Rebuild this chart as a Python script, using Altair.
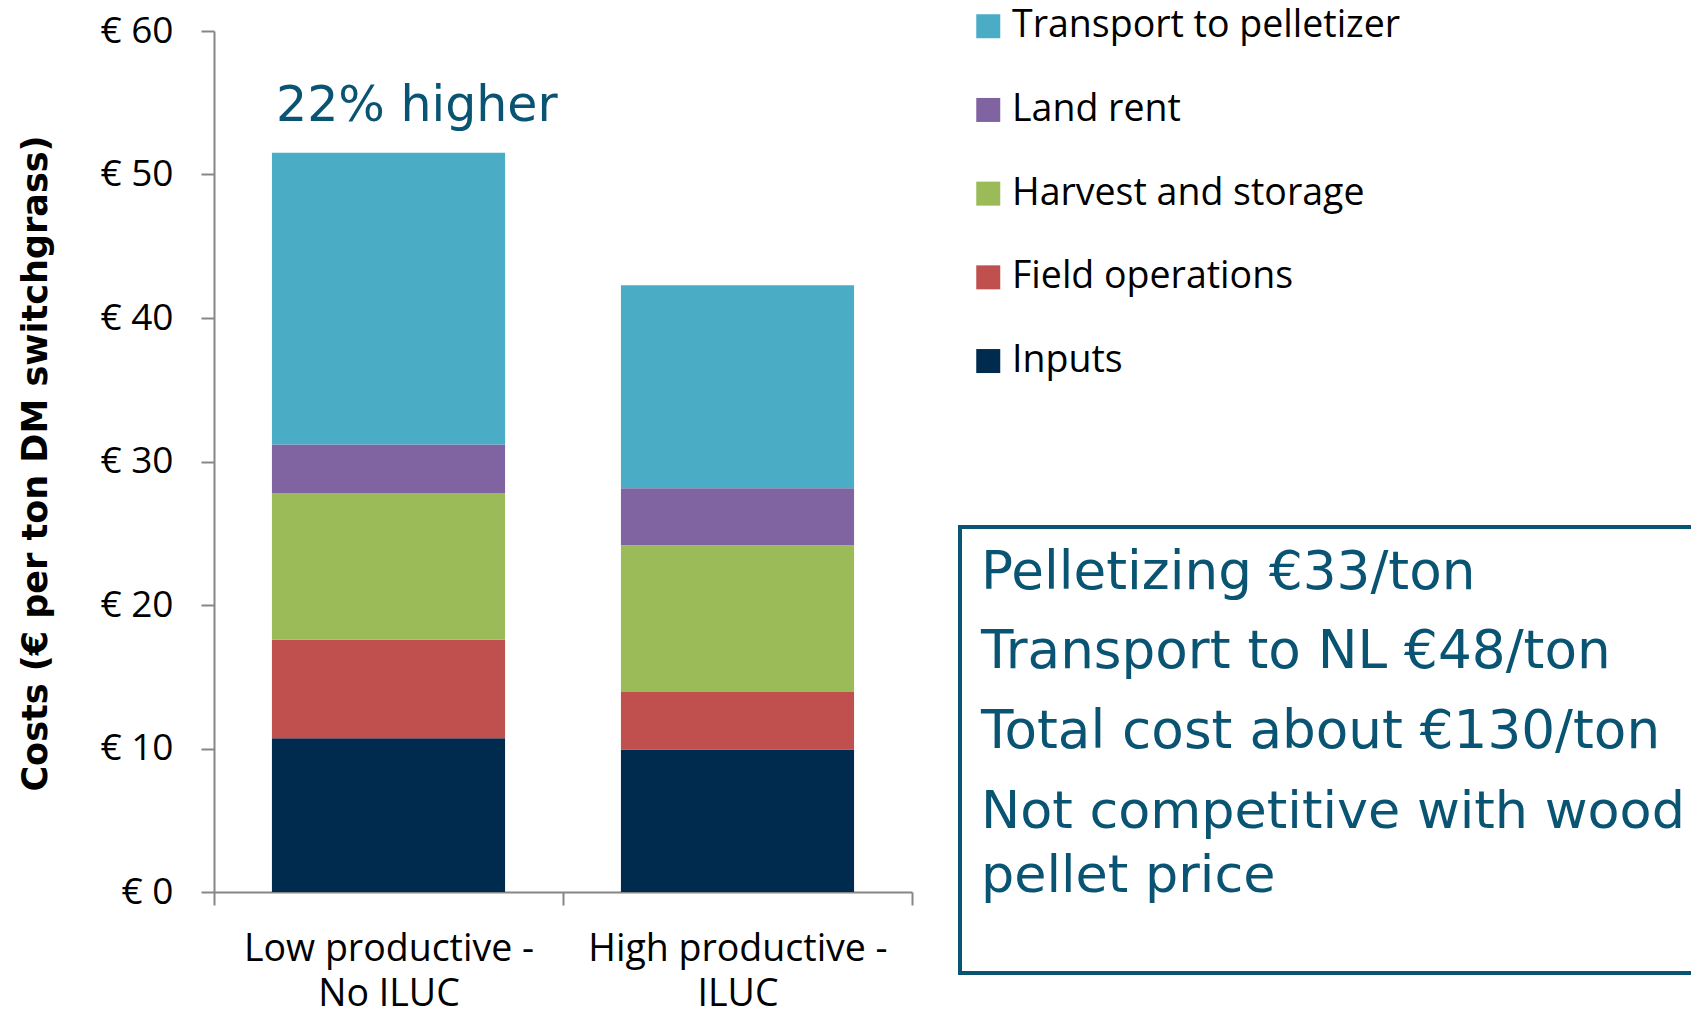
import altair as alt
import pandas as pd

# ---- data ----
categories = ["Low productive - No ILUC", "High productive - ILUC"]
components = ["Inputs", "Field operations", "Harvest and storage", "Land rent", "Transport to pelletizer"]
low_values = [10.71, 6.86, 10.23, 3.39, 20.32]
high_values = [9.93, 4.01, 10.23, 3.96, 14.16]
legend_order = ["Transport to pelletizer", "Land rent", "Harvest and storage", "Field operations", "Inputs"]
legend_colors = ["#4BACC6", "#8064A2", "#9BBB59", "#C0504D", "#002A4E"]
y_ticks = [0, 10, 20, 30, 40, 50, 60]
y_title = "Costs (€ per ton DM switchgrass)"
note_text = "22% higher"
box_lines = [
    "Pelletizing €33/ton",
    "Transport to NL €48/ton",
    "Total cost about €130/ton",
    "Not competitive with wood",
    "pellet price",
]

rows = []
for cat, vals in zip(categories, [low_values, high_values]):
    for i, (comp, v) in enumerate(zip(components, vals)):
        rows.append({"category": cat, "component": comp, "value": v, "stack_order": i})
df = pd.DataFrame(rows)

TEAL = "#0A5473"
AXIS_GREY = "#868686"
W, H = 698, 861
PAD = {"left": 206, "top": 23, "right": 779, "bottom": 116}
RIGHT_EDGE = W + PAD["right"]  # right border of the drawing, in view coordinates

bars = alt.Chart(df).mark_bar(width=alt.RelativeBandSize(0.668)).encode(
    x=alt.X(
        "category:N",
        sort=categories,
        scale=alt.Scale(paddingInner=0, paddingOuter=0),
        axis=alt.Axis(
            title=None,
            labelAngle=0,
            tickBand="extent",
            tickSize=13,
            tickWidth=2,
            tickColor=AXIS_GREY,
            domainColor=AXIS_GREY,
            domainWidth=2,
            labelFont="Open Sans",
            labelFontSize=37.5,
            labelColor="black",
            labelLineHeight=45,
            labelPadding=25,
            labelBaseline="top",
            labelLimit=600,
            labelExpr="[slice(datum.label, 0, indexof(datum.label, ' - ') + 2), slice(datum.label, indexof(datum.label, ' - ') + 3)]",
        ),
    ),
    y=alt.Y(
        "value:Q",
        stack="zero",
        scale=alt.Scale(domain=[0, 60], nice=False),
        axis=alt.Axis(
            values=y_ticks,
            grid=False,
            labelExpr="'€ ' + datum.value",
            labelFont="Open Sans",
            labelFontSize=37,
            labelColor="black",
            labelPadding=28,
            tickSize=13,
            tickWidth=2,
            tickColor=AXIS_GREY,
            domainColor=AXIS_GREY,
            domainWidth=2,
            title=y_title,
            titleFont="DejaVu Sans",
            titleFontWeight="bold",
            titleFontSize=35,
            titleColor="black",
            titleX=-179,
            titleY=432,
            titleAlign="center",
            titleBaseline="middle",
            titleAngle=270,
        ),
    ),
    color=alt.Color(
        "component:N",
        scale=alt.Scale(domain=legend_order, range=legend_colors),
        legend=alt.Legend(
            title=None,
            orient="none",
            legendX=755.5,
            legendY=-23.5,
            padding=0,
            symbolType="square",
            symbolSize=576,
            symbolStrokeWidth=0,
            labelFont="Open Sans",
            labelFontSize=37.5,
            labelColor="black",
            labelOffset=5,
            rowPadding=44.7,
            labelLimit=600,
        ),
    ),
    order=alt.Order("stack_order:Q", sort="ascending"),
)

note = alt.Chart(pd.DataFrame({"t": [note_text]})).mark_text(
    align="left", baseline="alphabetic", font="DejaVu Sans", fontSize=49, color=TEAL
).encode(text="t:N", x=alt.value(62), y=alt.value(90))

# annotation box: top, left and bottom edges (right edge runs off the page)
box_top = alt.Chart(pd.DataFrame({"t": [0]})).mark_rule(color=TEAL, strokeWidth=4).encode(
    x=alt.value(744), x2=alt.value(RIGHT_EDGE), y=alt.value(496)
)
box_bottom = alt.Chart(pd.DataFrame({"t": [0]})).mark_rule(color=TEAL, strokeWidth=4).encode(
    x=alt.value(744), x2=alt.value(RIGHT_EDGE), y=alt.value(942)
)
box_left = alt.Chart(pd.DataFrame({"t": [0]})).mark_rule(color=TEAL, strokeWidth=4).encode(
    x=alt.value(746), y=alt.value(494), y2=alt.value(944)
)

line_y = [558, 637, 717, 797, 861]
line_size = [53.2, 53.2, 53.2, 52.4, 52.4]
line_layers = []
for txt, yy, fs in zip(box_lines, line_y, line_size):
    line_layers.append(
        alt.Chart(pd.DataFrame({"t": [txt]})).mark_text(
            align="left", baseline="alphabetic", font="DejaVu Sans", fontSize=fs, color=TEAL
        ).encode(text="t:N", x=alt.value(767), y=alt.value(yy))
    )

chart = alt.layer(bars, note, box_top, box_bottom, box_left, *line_layers).properties(
    width=W,
    height=H,
    autosize="none",
    padding=PAD,
    background="white",
).configure_view(stroke=None)

chart.save("out.html", embed_options={"renderer": "svg", "actions": False})
